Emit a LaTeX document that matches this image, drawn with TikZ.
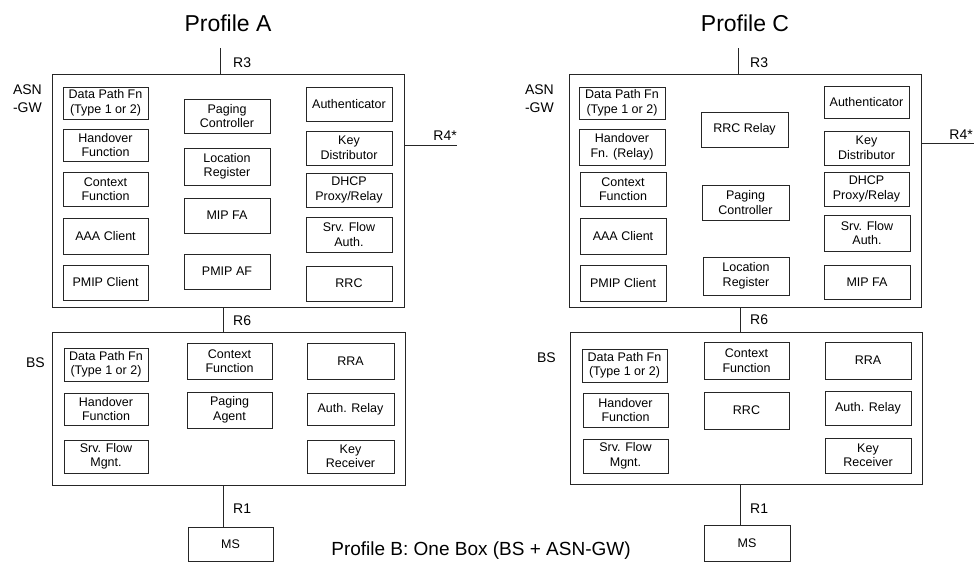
\documentclass[tikz,border=0pt]{standalone}
\usepackage{fontspec}
\setmainfont{Liberation Sans}

% Box placed by its corners (x1,y1)-(x2,y2), y measured downwards
\newcommand{\boxat}[7]{%
  \node[#1, minimum width={#5-#3}, minimum height={#6-#4}]
    (#2) at ({(#3+#5)/2},{-(#4+#6)/2}) {#7};}

\tikzset{
  fnb/.style={draw=black!85, line width=0.7pt, inner sep=0pt, align=center,
              font=\fontsize{12.5}{14.5}\selectfont},
  outerbox/.style={draw=black!85, line width=0.8pt, inner sep=0pt},
  lbl/.style={inner sep=0pt, font=\fontsize{14}{18}\selectfont},
  ttl/.style={inner sep=0pt, font=\fontsize{23}{27}\selectfont},
  wire/.style={draw=black!85, line width=0.8pt},
}

\begin{document}
\begin{tikzpicture}[x=1pt, y=1pt]
\useasboundingbox (0,0) rectangle (974,-563);

% ---------------- Profile A ----------------
\node[ttl, anchor=base] (titleA) at (228,-31) {Profile A};

\boxat{outerbox}{asnA}{52}{74}{404}{307}{}
\boxat{fnb}{dpA}{63}{87}{148}{119}{Data Path Fn\\(Type 1 or 2)}
\boxat{fnb}{hoA}{63}{129}{148}{161}{Handover\\Function}
\boxat{fnb}{cfA}{63}{172}{148}{206}{Context\\Function}
\boxat{fnb}{aaaA}{63}{218}{148}{254}{AAA Client}
\boxat{fnb}{pmcA}{63}{265}{148}{300}{PMIP Client}
\boxat{fnb}{pcA}{184}{99}{270}{133}{Paging\\Controller}
\boxat{fnb}{lrA}{184}{148}{270}{185}{Location\\Register}
\boxat{fnb}{mipA}{184}{198}{270}{233}{MIP FA}
\boxat{fnb}{pafA}{184}{254}{270}{289}{PMIP AF}
\boxat{fnb}{authA}{306}{87}{392}{121}{Authenticator}
\boxat{fnb}{kdA}{306}{131}{392}{165}{Key\\Distributor}
\boxat{fnb}{dhcpA}{306}{173}{392}{207}{DHCP\\Proxy/Relay}
\boxat{fnb}{sfaA}{306}{217}{392}{252}{Srv. Flow\\Auth.}
\boxat{fnb}{rrcA}{306}{266}{392}{301}{RRC}

\boxat{outerbox}{bsA}{52}{332}{405}{485}{}
\boxat{fnb}{bdpA}{64}{348}{148}{381}{Data Path Fn\\(Type 1 or 2)}
\boxat{fnb}{bhoA}{64}{393}{148}{425}{Handover\\Function}
\boxat{fnb}{bsfA}{64}{440}{148}{473}{Srv. Flow\\Mgnt.}
\boxat{fnb}{bcfA}{187}{343}{272}{379}{Context\\Function}
\boxat{fnb}{bpaA}{187}{392}{272}{428}{Paging\\Agent}
\boxat{fnb}{rraA}{307}{343}{394}{379}{RRA}
\boxat{fnb}{arA}{307}{393}{394}{425}{Auth. Relay}
\boxat{fnb}{krA}{307}{440}{394}{473}{Key\\Receiver}

\boxat{fnb}{msA}{188}{527}{273}{561}{MS}

\node[lbl, anchor=north east, align=right] (asnlblA) at (42,-85) {ASN\\-GW};
\node[lbl, anchor=east] (bslblA) at (45,-363) {BS};

\coordinate (r3A) at (220,-48);
\coordinate (r6A) at (223,0);
\coordinate (r4A) at (457,-145);
\draw[wire] (r3A) -- (r3A |- asnA.north);
\draw[wire] (asnA.south -| r6A) -- (bsA.north -| r6A);
\draw[wire] (bsA.south -| r6A) -- (msA.north -| r6A);
\draw[wire] (asnA.east |- r4A) -- (r4A);

\node[lbl, anchor=base west] (r3lblA) at (233,-67) {R3};
\node[lbl, anchor=base west] (r6lblA) at (233,-325) {R6};
\node[lbl, anchor=base west] (r1lblA) at (233,-513) {R1};
\node[lbl, anchor=base east] (r4lblA) at (457,-140) {R4*};

% ---------------- Profile C ----------------
\node[ttl, anchor=base] (titleC) at (745,-31) {Profile C};

\boxat{outerbox}{asnC}{569}{74}{921}{307}{}
\boxat{fnb}{dpC}{579}{87}{665}{119}{Data Path Fn\\(Type 1 or 2)}
\boxat{fnb}{hoC}{579}{129}{665}{165}{Handover\\Fn. (Relay)}
\boxat{fnb}{cfC}{580}{172}{666}{206}{Context\\Function}
\boxat{fnb}{aaaC}{580}{218}{666}{254}{AAA Client}
\boxat{fnb}{pmcC}{580}{265}{666}{301}{PMIP Client}
\boxat{fnb}{rrcrC}{701}{112}{788}{147}{RRC Relay}
\boxat{fnb}{pcC}{702}{185}{789}{220}{Paging\\Controller}
\boxat{fnb}{lrC}{703}{257}{789}{295}{Location\\Register}
\boxat{fnb}{authC}{824}{86}{909}{118}{Authenticator}
\boxat{fnb}{kdC}{824}{131}{909}{165}{Key\\Distributor}
\boxat{fnb}{dhcpC}{824}{172}{909}{206}{DHCP\\Proxy/Relay}
\boxat{fnb}{sfaC}{824}{215}{910}{251}{Srv. Flow\\Auth.}
\boxat{fnb}{mipC}{824}{265}{910}{299}{MIP FA}

\boxat{outerbox}{bsC}{570}{332}{922}{484}{}
\boxat{fnb}{bdpC}{582}{349}{667}{382}{Data Path Fn\\(Type 1 or 2)}
\boxat{fnb}{bhoC}{583}{393}{668}{427}{Handover\\Function}
\boxat{fnb}{bsfC}{583}{439}{668}{473}{Srv. Flow\\Mgnt.}
\boxat{fnb}{bcfC}{704}{342}{789}{379}{Context\\Function}
\boxat{fnb}{brrcC}{704}{392}{789}{429}{RRC}
\boxat{fnb}{rraC}{825}{342}{911}{379}{RRA}
\boxat{fnb}{arC}{825}{391}{911}{425}{Auth. Relay}
\boxat{fnb}{krC}{825}{438}{911}{473}{Key\\Receiver}

\boxat{fnb}{msC}{704}{525}{790}{561}{MS}

\node[lbl, anchor=north east, align=right] (asnlblC) at (554,-85) {ASN\\-GW};
\node[lbl, anchor=east] (bslblC) at (556,-358) {BS};

\coordinate (r3C) at (738,-48);
\coordinate (r6C) at (740,0);
\coordinate (r4C) at (974,-143);
\draw[wire] (r3C) -- (r3C |- asnC.north);
\draw[wire] (asnC.south -| r6C) -- (bsC.north -| r6C);
\draw[wire] (bsC.south -| r6C) -- (msC.north -| r6C);
\draw[wire] (asnC.east |- r4C) -- (r4C);

\node[lbl, anchor=base west] (r3lblC) at (750,-67) {R3};
\node[lbl, anchor=base west] (r6lblC) at (750,-324) {R6};
\node[lbl, anchor=base west] (r1lblC) at (750,-513) {R1};
\node[lbl, anchor=base east] (r4lblC) at (973,-139) {R4*};

% ---------------- Profile B note ----------------
\node[inner sep=0pt, anchor=base, font=\fontsize{19}{23}\selectfont] (profB)
  at (481,-555) {Profile B: One Box (BS + ASN-GW)};
\end{tikzpicture}
\end{document}
